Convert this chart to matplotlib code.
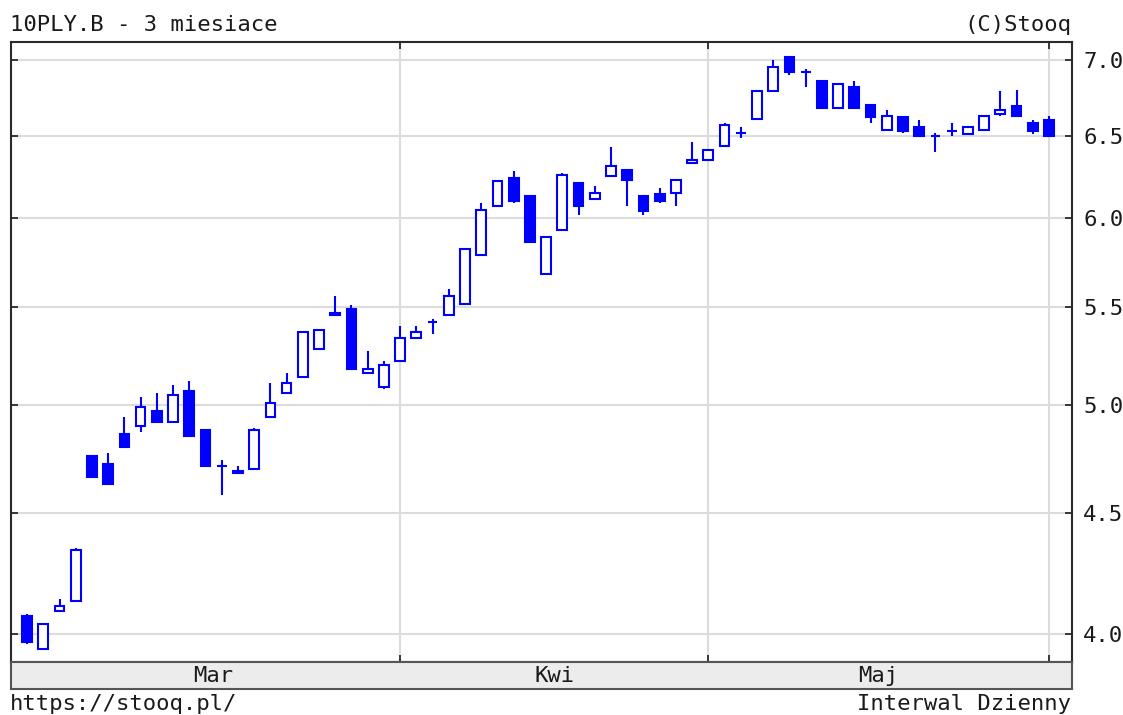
#!/usr/bin/env python3
"""
Stooq-style daily candlestick chart of 10PLY.B (3 months) on a log price axis.

Output:
- out.png
"""

from __future__ import annotations

import matplotlib

matplotlib.use("Agg")
import matplotlib.pyplot as plt
from matplotlib.ticker import FixedLocator, FormatStrFormatter, NullLocator


OUT = "out.png"

# Daily OHLC (one entry per session).
opens = [
    4.07, 3.94, 4.09, 4.13, 4.76, 4.72, 4.86, 4.90, 4.97, 4.92,
    5.07, 4.88, 4.71, 4.68, 4.70, 4.94, 5.06, 5.14, 5.28, 5.46,
    5.49, 5.16, 5.09, 5.22, 5.34, 5.42, 5.46, 5.52, 5.79, 6.07,
    6.24, 6.13, 5.68, 5.93, 6.21, 6.11, 6.25, 6.29, 6.13, 6.14,
    6.15, 6.33, 6.35, 6.44, 6.52, 6.61, 6.79, 7.02, 6.92, 6.86,
    6.68, 6.82, 6.70, 6.54, 6.62, 6.56, 6.50, 6.53, 6.51, 6.54,
    6.64, 6.69, 6.58, 6.60,
]
highs = [
    4.08, 4.04, 4.14, 4.35, 4.76, 4.77, 4.94, 5.04, 5.06, 5.10,
    5.12, 4.88, 4.74, 4.71, 4.89, 5.11, 5.16, 5.37, 5.38, 5.56,
    5.51, 5.27, 5.22, 5.40, 5.40, 5.44, 5.60, 5.82, 6.09, 6.22,
    6.28, 6.13, 5.89, 6.27, 6.21, 6.19, 6.43, 6.29, 6.13, 6.18,
    6.23, 6.46, 6.41, 6.58, 6.56, 6.79, 7.00, 7.02, 6.94, 6.86,
    6.84, 6.86, 6.70, 6.67, 6.62, 6.60, 6.52, 6.58, 6.56, 6.63,
    6.79, 6.80, 6.60, 6.63,
]
lows = [
    3.96, 3.94, 4.09, 4.13, 4.66, 4.63, 4.80, 4.87, 4.92, 4.92,
    4.85, 4.71, 4.58, 4.68, 4.70, 4.94, 5.06, 5.14, 5.28, 5.46,
    5.18, 5.16, 5.08, 5.22, 5.34, 5.36, 5.46, 5.52, 5.79, 6.07,
    6.09, 5.86, 5.68, 5.93, 6.02, 6.11, 6.25, 6.07, 6.02, 6.09,
    6.07, 6.33, 6.35, 6.44, 6.49, 6.61, 6.79, 6.90, 6.82, 6.68,
    6.68, 6.68, 6.58, 6.54, 6.52, 6.50, 6.40, 6.50, 6.51, 6.54,
    6.63, 6.63, 6.51, 6.50,
]
closes = [
    3.97, 4.04, 4.11, 4.34, 4.66, 4.63, 4.80, 4.99, 4.92, 5.05,
    4.85, 4.71, 4.71, 4.69, 4.88, 5.01, 5.11, 5.37, 5.38, 5.47,
    5.18, 5.18, 5.20, 5.34, 5.37, 5.42, 5.56, 5.82, 6.05, 6.22,
    6.10, 5.86, 5.89, 6.26, 6.07, 6.15, 6.31, 6.23, 6.04, 6.10,
    6.23, 6.35, 6.41, 6.57, 6.52, 6.79, 6.95, 6.92, 6.92, 6.68,
    6.84, 6.68, 6.62, 6.63, 6.53, 6.50, 6.50, 6.53, 6.56, 6.63,
    6.67, 6.63, 6.53, 6.50,
]

# Session index where each month starts (last one = first session of June).
month_starts = [0, 23, 42, 63]
month_labels = ["Mar", "Kwi", "Maj"]

price_ticks = [4.0, 4.5, 5.0, 5.5, 6.0, 6.5, 7.0]

BLUE = "#0000ff"
GRID = "#dcdcdc"
FRAME = "#2a2a2a"
TEXT = "#1a1a1a"
MONO = "DejaVu Sans Mono"


def main() -> None:
    W, H = 1123, 715
    fig = plt.figure(figsize=(W / 100, H / 100), dpi=100)
    fig.patch.set_facecolor("white")

    left, right, top, bottom = 11, 1072, 42, 662
    ax = fig.add_axes([left / W, 1 - bottom / H, (right - left) / W, (bottom - top) / H])
    band = fig.add_axes([left / W, 1 - 689 / H, (right - left) / W, (689 - bottom) / H])

    n = len(opens)
    xs = list(range(n))

    # Wicks first, bodies on top so hollow candles cover them.
    ax.vlines(xs, lows, highs, color=BLUE, linewidth=1.5, zorder=3)
    for i in xs:
        o, c = opens[i], closes[i]
        face = BLUE if c < o else "white"
        ax.bar(i, abs(c - o), bottom=min(o, c), width=0.6, color=face,
               edgecolor=BLUE, linewidth=1.5, zorder=4)

    ax.set_yscale("log")
    ax.set_xlim(-0.99, n - 1 + 1.42)
    ax.set_ylim(3.892, 7.124)

    ax.yaxis.set_major_locator(FixedLocator(price_ticks))
    ax.yaxis.set_major_formatter(FormatStrFormatter("%.1f"))
    ax.yaxis.set_minor_locator(NullLocator())
    ax.xaxis.set_major_locator(FixedLocator(month_starts[1:]))
    ax.xaxis.set_minor_locator(NullLocator())

    ax.tick_params(axis="y", direction="in", left=True, right=True,
                   labelleft=False, labelright=True, length=5, width=1.3,
                   color=FRAME, pad=8, labelsize=16, labelcolor=TEXT)
    ax.tick_params(axis="x", direction="in", top=True, bottom=True,
                   labelbottom=False, length=5, width=1.3, color=FRAME)
    for lab in ax.get_yticklabels():
        lab.set_family(MONO)

    ax.grid(True, color=GRID, linewidth=1.5, zorder=0)
    ax.set_axisbelow(True)
    for sp in ax.spines.values():
        sp.set_color(FRAME)
        sp.set_linewidth(1.5)

    # Month band under the plot.
    band.set_facecolor("#ececec")
    band.set_xlim(ax.get_xlim())
    band.set_ylim(0, 1)
    band.set_xticks([])
    band.set_yticks([])
    for sp in band.spines.values():
        sp.set_color("#555555")
        sp.set_linewidth(1.5)
    for k, name in enumerate(month_labels):
        mid = (month_starts[k] + month_starts[k + 1]) / 2
        band.text(mid, 0.5, name, ha="center", va="center", fontsize=16,
                  family=MONO, color=TEXT)

    fig.text(10 / W, 1 - 25 / H, "10PLY.B - 3 miesiace", ha="left", va="center",
             fontsize=16, family=MONO, color=TEXT)
    fig.text(1071 / W, 1 - 25 / H, "(C)Stooq", ha="right", va="center",
             fontsize=16, family=MONO, color=TEXT)
    fig.text(10 / W, 1 - 704 / H, "https://stooq.pl/", ha="left", va="center",
             fontsize=16, family=MONO, color=TEXT)
    fig.text(1071 / W, 1 - 704 / H, "Interwal Dzienny", ha="right", va="center",
             fontsize=16, family=MONO, color=TEXT)

    fig.savefig(OUT, dpi=100)
    plt.close(fig)


if __name__ == "__main__":
    main()
